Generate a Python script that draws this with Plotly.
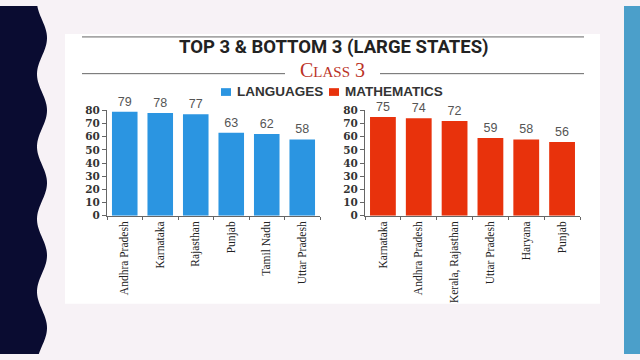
import numpy as np
import plotly.graph_objects as go

# ---------------- data ----------------
lang_states = ["Andhra Pradesh", "Karnataka", "Rajasthan", "Punjab", "Tamil Nadu", "Uttar Pradesh"]
lang_scores = [79, 78, 77, 63, 62, 58]
math_states = ["Karnataka", "Andhra Pradesh", "Kerala, Rajasthan", "Uttar Pradesh", "Haryana", "Punjab"]
math_scores = [75, 74, 72, 59, 58, 56]
y_ticks = [0, 10, 20, 30, 40, 50, 60, 70, 80]
series_names = ["LANGUAGES", "MATHEMATICS"]

# ---------------- style ----------------
W, H = 640, 360
BLUE = "#2b95e1"
RED = "#e8320c"
NAVY = "#0a0c31"
TEAL = "#4b9fca"
BG = "#f7f2f6"
DARK_RED = "#bb3327"
LINE = "#666666"


def px(x):
    return x / W


def py(y):
    return 1 - y / H


fig = go.Figure()

val_font = dict(family="Liberation Sans, Arial, sans-serif", size=12.5, color="#555555")

fig.add_trace(go.Bar(
    x=lang_states, y=lang_scores, name=series_names[0],
    marker=dict(color=BLUE, line=dict(width=0)),
    width=0.72, text=lang_scores, textposition="outside",
    textfont=val_font, cliponaxis=False,
    xaxis="x", yaxis="y", showlegend=False,
))
fig.add_trace(go.Bar(
    x=math_states, y=math_scores, name=series_names[1],
    marker=dict(color=RED, line=dict(width=0)),
    width=0.72, text=math_scores, textposition="outside",
    textfont=val_font, cliponaxis=False,
    xaxis="x2", yaxis="y2", showlegend=False,
))

xaxis_common = dict(
    showline=True, linecolor=LINE, linewidth=1,
    ticks="outside", tickson="boundaries", ticklen=3, tickcolor=LINE,
    tickangle=-90, showgrid=False, zeroline=False,
    tickfont=dict(family="Liberation Serif, Times New Roman, serif", size=11.5, color="#222222"),
    fixedrange=True,
)
yaxis_common = dict(
    range=[0, 80], tickvals=y_ticks, ticktext=[str(v) for v in y_ticks],
    showline=True, linecolor=LINE, linewidth=1,
    ticks="outside", ticklen=4, tickcolor=LINE,
    showgrid=False, zeroline=False,
    tickfont=dict(family="DejaVu Serif, serif", size=10.5, color="#333333", weight="bold"),
    domain=[py(217), py(108)],
    fixedrange=True,
)

# wavy navy strip on the left (decoration)
ys = np.linspace(0, H, 181)
xs = 42 + 5 * np.cos(2 * np.pi * (ys - 33) / 75)
path = "M 0,1 " + " ".join(f"L {px(x):.5f},{py(y):.5f}" for x, y in zip(xs, ys)) + " L 0,0 Z"

shapes = [
    dict(type="rect", xref="paper", yref="paper", x0=px(65), x1=px(600), y0=py(308), y1=py(29),
         fillcolor="white", line=dict(width=0), layer="below"),
    dict(type="path", xref="paper", yref="paper", path=path, fillcolor=NAVY, line=dict(width=0), layer="below"),
    dict(type="rect", xref="paper", yref="paper", x0=px(624), x1=1, y0=0, y1=1,
         fillcolor=TEAL, line=dict(width=0), layer="below"),
    dict(type="line", xref="paper", yref="paper", x0=px(82), x1=px(584), y0=py(32), y1=py(32),
         line=dict(color=LINE, width=1)),
    dict(type="line", xref="paper", yref="paper", x0=px(82), x1=px(285), y0=py(70), y1=py(70),
         line=dict(color=LINE, width=1)),
    dict(type="line", xref="paper", yref="paper", x0=px(380), x1=px(584), y0=py(70), y1=py(70),
         line=dict(color=LINE, width=1)),
    dict(type="rect", xref="paper", yref="paper", x0=px(221), x1=px(231), y0=py(93), y1=py(85),
         fillcolor=BLUE, line=dict(width=0)),
    dict(type="rect", xref="paper", yref="paper", x0=px(329), x1=px(339), y0=py(93), y1=py(85),
         fillcolor=RED, line=dict(width=0)),
]

annotations = [
    dict(text="TOP 3 & BOTTOM 3 (LARGE STATES)", xref="paper", yref="paper",
         x=px(334), y=py(42), xanchor="center", yanchor="middle", showarrow=False,
         font=dict(family="Roboto, Arial, sans-serif", size=18.5, color="#222222", weight="bold")),
    dict(text="<span style='font-size:20px'>C</span><span style='font-size:15px'>LASS</span> 3",
         xref="paper", yref="paper", x=px(332), y=py(66), xanchor="center", yanchor="middle",
         showarrow=False,
         font=dict(family="Liberation Serif, Times New Roman, serif", size=20, color=DARK_RED)),
    dict(text=series_names[0], xref="paper", yref="paper", x=px(235), y=py(88),
         xanchor="left", yanchor="middle", showarrow=False,
         font=dict(family="Liberation Sans, Arial, sans-serif", size=13.5, color="#333333", weight="bold")),
    dict(text=series_names[1], xref="paper", yref="paper", x=px(343), y=py(88),
         xanchor="left", yanchor="middle", showarrow=False,
         font=dict(family="Liberation Sans, Arial, sans-serif", size=13.5, color="#333333", weight="bold")),
]

fig.update_layout(
    width=W, height=H,
    margin=dict(l=0, r=0, t=0, b=0),
    paper_bgcolor=BG, plot_bgcolor="rgba(0,0,0,0)",
    xaxis=dict(domain=[px(107), px(320)], anchor="y", **xaxis_common),
    yaxis=dict(anchor="x", **yaxis_common),
    xaxis2=dict(domain=[px(365), px(580)], anchor="y2", **xaxis_common),
    yaxis2=dict(anchor="x2", **yaxis_common),
    shapes=shapes,
    annotations=annotations,
    showlegend=False,
)

fig.write_html("out.html")
